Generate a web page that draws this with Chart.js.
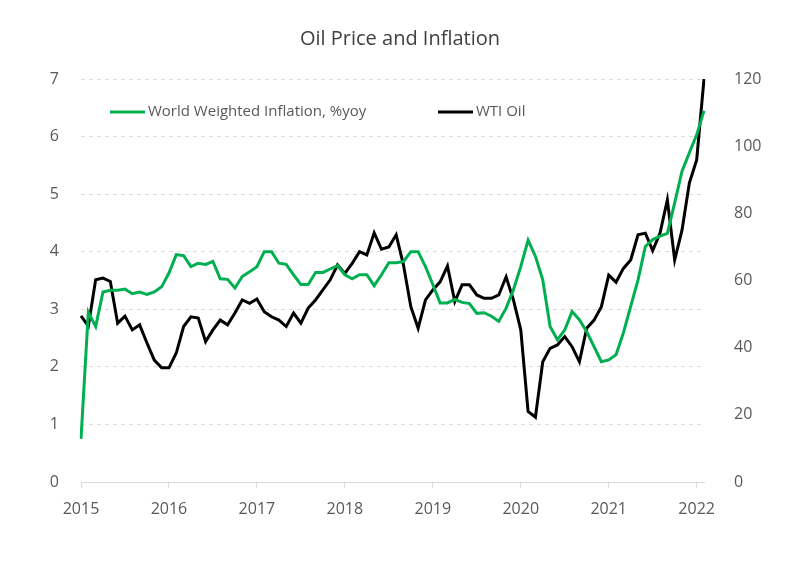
<!DOCTYPE html>
<html>
<head>
<meta charset="utf-8">
<script src="https://cdn.jsdelivr.net/npm/chart.js@4/dist/chart.umd.min.js"></script>
<style>
  body { margin: 0; background: #fff; }
</style>
</head>
<body>
<canvas id="myChart" width="800" height="564"></canvas>
<script>
// monthly, Jan 2015 .. Feb 2022
var years = [2015, 2016, 2017, 2018, 2019, 2020, 2021, 2022];
var inflationLabel = 'World Weighted Inflation, %yoy';
var oilLabel = 'WTI Oil';

var inflation = [
    0.75, 2.95, 2.7, 3.3, 3.33, 3.33, 3.35, 3.27, 3.3, 3.26, 3.3, 3.39,
    3.63, 3.95, 3.93, 3.74, 3.8, 3.78, 3.83, 3.53, 3.52, 3.37, 3.57, 3.65,
    3.74, 4.0, 4.0, 3.8, 3.78, 3.6, 3.43, 3.43, 3.64, 3.64, 3.7, 3.76,
    3.6, 3.53, 3.6, 3.6, 3.41, 3.6, 3.81, 3.81, 3.83, 4.0, 4.0, 3.74,
    3.43, 3.11, 3.11, 3.17, 3.12, 3.1, 2.93, 2.94, 2.88, 2.79, 3.02, 3.34,
    3.74, 4.2, 3.92, 3.51, 2.7, 2.47, 2.64, 2.96, 2.82, 2.61, 2.35, 2.09,
    2.12, 2.21, 2.59, 3.05, 3.51, 4.09, 4.21, 4.27, 4.32, 4.85, 5.4, 5.72,
    6.03, 6.45
];
var oil = [
    49.5, 46.4, 60.2, 60.7, 59.7, 47.3, 49.4, 45.3, 46.8, 41.4, 36.3, 34,
    34, 38.4, 46.3, 49.2, 48.8, 41.8, 45.3, 48.2, 46.8, 50.3, 54.2, 53.2,
    54.5, 50.7, 49.2, 48.2, 46.3, 50.3, 47.3, 51.8, 54.2, 57.2, 60.2, 64.6,
    62.1, 65.1, 68.6, 67.6, 74.2, 69.3, 70, 73.6, 64.6, 52.2, 45.8, 54.2,
    57.2, 59.6, 64.3, 53.7, 58.7, 58.7, 55.7, 54.7, 54.7, 55.7, 61.1, 54.2,
    45.3, 21, 19.3, 35.8, 39.8, 40.8, 43.3, 40.3, 35.8, 45.8, 48.2, 52.2,
    61.6, 59.5, 63.6, 66.1, 73.6, 74.1, 68.9, 74.1, 84, 66.1, 75, 89,
    95.9, 120
];

var months = [];
for (var i = 0; i < inflation.length; i++) {
    months.push(years[0] + Math.floor(i / 12) + '-' + (i % 12 + 1));
}

var gray = '#595959';
var fontFamily = "'Open Sans', 'Noto Sans', sans-serif";

// legend drawn inside the plot area, like the original
var innerLegend = {
    id: 'innerLegend',
    afterDraw: function (chart) {
        var ctx = chart.ctx;
        var a = chart.chartArea;
        var y = a.top + 33;
        var items = [
            {x: a.left + 29, ds: chart.data.datasets[0]},
            {x: a.left + 357, ds: chart.data.datasets[1]}
        ];
        ctx.save();
        ctx.font = '15px ' + fontFamily;
        ctx.textBaseline = 'middle';
        items.forEach(function (it) {
            ctx.strokeStyle = it.ds.borderColor;
            ctx.lineWidth = 3;
            ctx.beginPath();
            ctx.moveTo(it.x, y);
            ctx.lineTo(it.x + 35, y);
            ctx.stroke();
            ctx.fillStyle = gray;
            ctx.fillText(it.ds.label, it.x + 38, y);
        });
        ctx.restore();
    }
};

new Chart(document.getElementById('myChart'), {
    type: 'line',
    data: {
        labels: months,
        datasets: [
            {
                label: inflationLabel,
                data: inflation,
                borderColor: '#00b050',
                borderWidth: 3,
                pointRadius: 0,
                tension: 0,
                yAxisID: 'y'
            },
            {
                label: oilLabel,
                data: oil,
                borderColor: '#000000',
                borderWidth: 3,
                pointRadius: 0,
                tension: 0,
                yAxisID: 'y1'
            }
        ]
    },
    options: {
        responsive: false,
        animation: false,
        layout: {padding: {top: 3, right: 0, bottom: 0, left: 0}},
        plugins: {
            legend: {display: false},
            tooltip: {enabled: false},
            title: {
                display: true,
                text: 'Oil Price and Inflation',
                color: '#404040',
                font: {size: 20, family: fontFamily, weight: 'normal'},
                padding: {top: 24, bottom: 28}
            }
        },
        scales: {
            x: {
                type: 'category',
                offset: false,
                grid: {
                    drawOnChartArea: false,
                    drawTicks: true,
                    tickLength: 6,
                    color: function (c) {
                        return c.index % 12 === 0 ? '#d9d9d9' : 'rgba(0,0,0,0)';
                    }
                },
                border: {color: '#d9d9d9', width: 1},
                ticks: {
                    autoSkip: false,
                    maxRotation: 0,
                    padding: 12,
                    color: gray,
                    font: {size: 16, family: fontFamily},
                    callback: function (v, idx) {
                        return idx % 12 === 0 ? String(years[0] + idx / 12) : '';
                    }
                },
                afterFit: function (s) { s.height = 82; }
            },
            y: {
                position: 'left',
                min: 0,
                max: 7,
                ticks: {stepSize: 1, padding: 22, color: gray, font: {size: 16, family: fontFamily}},
                grid: {color: '#d9d9d9', drawTicks: false, tickBorderDash: [4, 4]},
                border: {display: false, dash: [4, 4]},
                afterFit: function (s) { s.width = 81; }
            },
            y1: {
                position: 'right',
                min: 0,
                max: 120,
                ticks: {stepSize: 20, padding: 30, color: gray, font: {size: 16, family: fontFamily}},
                grid: {drawOnChartArea: false, drawTicks: false},
                border: {display: false},
                afterFit: function (s) { s.width = 96; }
            }
        }
    },
    plugins: [innerLegend]
});
</script>
</body>
</html>
